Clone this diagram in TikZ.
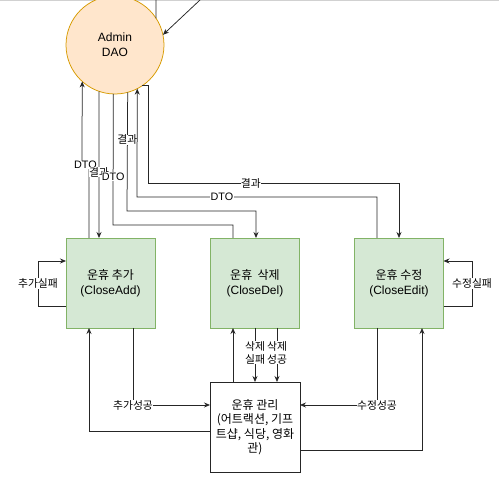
\documentclass[tikz,border=0pt]{standalone}
\usepackage{fontspec}
\setmainfont{Liberation Sans}
\newfontfamily\kr{Noto Sans CJK KR}
\usetikzlibrary{arrows.meta}
\definecolor{daofill}{HTML}{FFE6CC}
\definecolor{daoline}{HTML}{D79B00}
\definecolor{boxfill}{HTML}{D5E8D4}
\definecolor{boxline}{HTML}{82B366}
\begin{document}
\begin{tikzpicture}[x=1pt,y=-1pt,
  conn/.style={draw=black!85,line width=0.75pt},
  arr/.style={conn,-{Stealth[length=6pt,width=5pt]}},
  lbl/.style={fill=white,inner sep=0.3pt,align=center,font=\kr\fontsize{10.8}{12.5}\selectfont},
  lbll/.style={fill=white,inner sep=0.3pt,font=\fontsize{10.8}{12}\selectfont},
  procbox/.style={draw=boxline,fill=boxfill,line width=0.75pt,minimum width=89pt,minimum height=90pt,inner sep=0pt,outer sep=0pt,align=center,font=\fontsize{12}{15}\selectfont},
  mgmtbox/.style={draw=black!85,fill=white,line width=0.75pt,minimum width=90pt,minimum height=90pt,inner sep=0pt,outer sep=0pt,align=center,font=\kr\fontsize{12}{14.5}\selectfont},
  dbcircle/.style={circle,draw=daoline,fill=daofill,line width=0.75pt,minimum size=98pt,inner sep=0pt,outer sep=0pt,align=center,font=\fontsize{12}{15}\selectfont}
]
\useasboundingbox (0,0) rectangle (499,492);
\draw[draw=black!18,line width=1.5pt] (0,0.75) -- (499,0.75);

\node[dbcircle] (dao) at (115,45) {Admin\\DAO};
\node[procbox] (add) at (110.5,283) {{\kr 운휴 추가}\\(CloseAdd)};
\node[procbox] (del) at (255,283) {{\kr 운휴\ \ 삭제}\\(CloseDel)};
\node[procbox] (edit) at (399,283) {{\kr 운휴 수정}\\(CloseEdit)};
\node[mgmtbox] (mgmt) at (255,427) {운휴 관리\\(어트랙션, 기프\\트샵, 식당, 영화\\관)};

\coordinate (t1) at (156,0);
\coordinate (t2) at (200,0);
\draw[conn] (t1) -- (dao.33.2);
\draw[arr] (t2) -- (dao.12.3);

% DAO <-> CloseAdd
\draw[arr] (89,0 |- add.north) -- (89,165) -- node[lbll]{DTO} (82,165) -- (dao.-132.3);
\draw[arr] (dao.-109.1) -- node[lbl,pos=0.55]{결과} (99,0 |- add.north);
% DAO <-> CloseDel
\draw[conn] (233,0 |- del.north) -- (233,225) -- (113,225) -- node[lbll,pos=0.37]{DTO} (dao.-92.3);
\draw[arr] (dao.-75.8) -- node[lbl,pos=0.40]{결과} (127,211) -- (256,211) -- (256,0 |- del.north);
% DAO <-> CloseEdit
\draw[arr] (377,0 |- edit.north) -- (377,197) -- node[lbll,pos=0.646]{DTO} (137,197) -- (dao.-63.3);
\draw[arr] (dao.-56.6) -- (148,0 |- dao.-56.6) -- (148,183) -- node[lbl,pos=0.41]{결과} (399,183) -- (399,0 |- edit.north);

% self loops
\draw[arr] (add.west |- 0,306) -- (38,306) -- node[lbl]{추가실패} (38,261) -- (add.west |- 0,261);
\draw[arr] (edit.east |- 0,306) -- (472,306) -- node[lbl]{수정실패} (472,261) -- (edit.east |- 0,261);

% bottom
\draw[arr] (mgmt.west |- 0,431) -- (89,431) -- (89,0 |- add.south);
\draw[arr] (133,0 |- add.south) -- (133,405) -- (mgmt.west |- 0,405);
\node[lbl] at (133,405) {추가성공};
\draw[arr] (233,0 |- mgmt.north) -- (233,0 |- del.south);
\draw[arr] (255,0 |- del.south) -- node[lbl,pos=0.46]{삭제\\실패} (255,0 |- mgmt.north);
\draw[arr] (277,0 |- del.south) -- node[lbl,pos=0.46]{삭제\\성공} (277,0 |- mgmt.north);
\draw[arr] (377,0 |- edit.south) -- (377,405) -- (mgmt.east |- 0,405);
\node[lbl] at (377,405) {수정성공};
\draw[arr] (mgmt.east |- 0,450) -- (422,450) -- (422,0 |- edit.south);
\end{tikzpicture}
\end{document}
